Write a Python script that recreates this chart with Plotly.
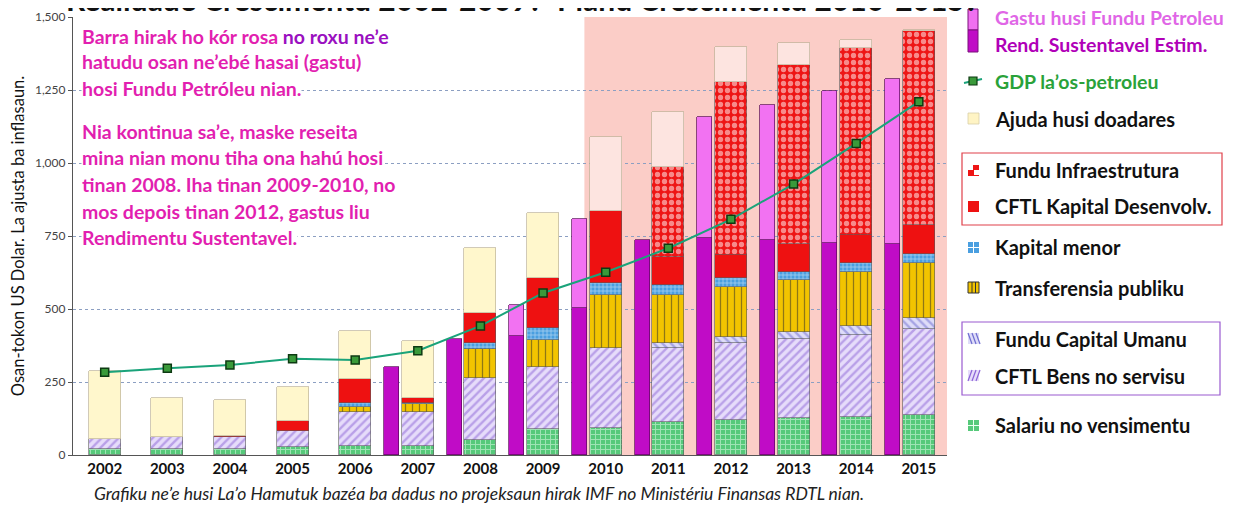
import plotly.graph_objects as go

years = [2002, 2003, 2004, 2005, 2006, 2007, 2008, 2009, 2010, 2011, 2012, 2013, 2014, 2015]
tick_labels = [str(y) for y in years]

# stacked spending components (US$ million)
salariu     = [20, 22, 22, 28, 30, 32, 50, 88, 91, 114, 120, 126, 131, 137]
bens        = [35, 40, 38, 55, 118, 116, 215, 212, 274, 253, 263, 271, 281, 296]
fundu_cap   = [0, 0, 0, 0, 0, 0, 0, 0, 0, 15, 20, 25, 30, 35]
transf      = [0, 0, 0, 0, 15, 25, 97, 95, 183, 166, 174, 177, 186, 188]
kap_menor   = [0, 0, 0, 0, 15, 6, 23, 40, 40, 34, 28, 29, 31, 32]
kap_desenv  = [0, 0, 5, 34, 82, 15, 100, 170, 248, 97, 80, 95, 94, 100]
fundu_infra = [0, 0, 0, 0, 0, 0, 0, 0, 0, 308, 592, 613, 641, 664]
ajuda       = [233, 133, 123, 117, 166, 196, 224, 224, 254, 189, 120, 75, 27, 5]

# Petroleum Fund withdrawals
rend_sust   = [None, None, None, None, None, 300, 396, 408, 502, 736, 742, 736, 727, 723]
gastu_extra = [None, None, None, None, None, None, None, 105, 306, None, 417, 463, 520, 565]

# non-oil GDP
gdp = [283, 297, 308, 330, 325, 357, 442, 555, 626, 708, 807, 928, 1067, 1210]

# ---------------- geometry helpers (reference pixel -> paper) ----------------
OFF = 8                      # page body margin offset
L, R, T, B = 73, 947, 17, 455
W, H = 1238, 508
def PX(x): return (x - L) / (R - L)
def PY(y): return (B - y) / (B - T)

FONT = "Lato"
fig = go.Figure()

SW = 0.51      # stacked bar width
MW = 0.24      # magenta bar width
MOFF = 0.42    # magenta bar offset to the left
mag_x = [y - MOFF for y in years]

edge = dict(color="#5a5a5a", width=0.6)

def stack_trace(name, vals, color, pattern=None, line=None):
    marker = dict(color=color, line=line or edge)
    if pattern:
        marker["pattern"] = pattern
    fig.add_trace(go.Bar(x=years, y=vals, name=name, width=SW, marker=marker,
                         showlegend=False, hoverinfo="name+y"))

stack_trace("Salariu no vensimentu", salariu, "#56c97a",
            dict(shape="+", bgcolor="#56c97a", fgcolor="#eafff0", size=5, solidity=0.35))
stack_trace("CFTL Bens no servisu", bens, "#d9ccf5",
            dict(shape="/", bgcolor="#e6dcfa", fgcolor="#8b63d6", size=6, solidity=0.4))
stack_trace("Fundu Capital Umanu", fundu_cap, "#d6d6f6",
            dict(shape="\\", bgcolor="#dedcf8", fgcolor="#6e6cd0", size=6, solidity=0.4))
stack_trace("Transferensia publiku", transf, "#f2c400",
            dict(shape="|", bgcolor="#f2c400", fgcolor="#2a2a2a", size=7, solidity=0.18))
stack_trace("Kapital menor", kap_menor, "#4a9fe0",
            dict(shape="+", bgcolor="#4a9fe0", fgcolor="#ffffff", size=4, solidity=0.35))
stack_trace("CFTL Kapital Desenvolv.", kap_desenv, "#ee1111")
stack_trace("Fundu Infraestrutura", fundu_infra, "#ee1515",
            dict(shape=".", bgcolor="#ee1515", fgcolor="#ffffff", size=7, solidity=0.45))
aj_colors = ["#fff7cc" if y < 2010 else "#fde4e0" for y in years]
stack_trace("Ajuda husi doadares", ajuda, aj_colors, line=dict(color="#bdb49a", width=0.7))

fig.add_trace(go.Bar(x=mag_x, y=rend_sust, name="Rend. Sustentavel Estim.", width=MW,
                     marker=dict(color="#c00cc6", line=dict(color="#5a0a5a", width=0.7)),
                     showlegend=False))
fig.add_trace(go.Bar(x=mag_x, y=gastu_extra, name="Gastu husi Fundu Petroleu", width=MW,
                     marker=dict(color="#f272f2", line=dict(color="#5a0a5a", width=0.7)),
                     showlegend=False))

fig.add_trace(go.Scatter(x=years, y=gdp, name="GDP la'os-petroleu", mode="lines+markers",
                         line=dict(color="#1aa37a", width=2),
                         marker=dict(symbol="square", size=8, color="#3a9a3a",
                                     line=dict(color="#0d3a12", width=1.5)),
                         showlegend=False))

# pink projection background
fig.add_shape(type="rect", xref="x", yref="y", x0=2009.66, x1=2015.45, y0=0, y1=1500,
              fillcolor="#fbcdc7", line=dict(width=0), layer="below")

fig.update_layout(
    width=W, height=H, barmode="stack", bargap=0,
    margin=dict(l=L - OFF, r=W - (R - OFF), t=T - OFF, b=H - (B - OFF), autoexpand=False),
    paper_bgcolor="white", plot_bgcolor="white",
    font=dict(family=FONT, color="#222"),
    showlegend=False,
)
fig.update_xaxes(range=[2001.494, 2015.45], tickvals=years, ticktext=tick_labels,
                 tickfont=dict(family=FONT, size=15, color="#111", weight="bold"),
                 showline=True, linecolor="#555", linewidth=1.2, showgrid=False,
                 ticks="", zeroline=False)
fig.update_yaxes(range=[0, 1500], tickvals=[0, 250, 500, 750, 1000, 1250, 1500],
                 tickformat=",", tickfont=dict(family=FONT, size=12, color="#444"),
                 showline=True, linecolor="#555", linewidth=1.2, ticks="outside",
                 ticklen=4, tickcolor="#555",
                 showgrid=True, gridcolor="#8c9fc2", griddash="dot", gridwidth=1,
                 zeroline=False,
                 title=dict(text="Osan-tokon US Dolar. La ajusta ba inflasaun.",
                            font=dict(family=FONT, size=16.5, color="#111"), standoff=12))

# ---------------- title (cropped at top, as in the reference) ----------------
fig.add_annotation(xref="paper", yref="paper", x=PX(522), y=PY(19), xanchor="center",
                   yanchor="bottom", showarrow=False,
                   text="<b>Realidade Crescimentu 2002-2009?  Planu Crescimentu 2010-2015?</b>",
                   font=dict(family=FONT, size=30, color="#111"))

# ---------------- note text ----------------
PINK = "#e21fb0"
PURP = "#9a10c0"
note_lines = [
    (36, f"Barra hirak ho kór rosa <span style='color:{PURP}'>no roxu ne’e</span>"),
    (62, "hatudu osan ne’ebé hasai (gastu)"),
    (88, "hosi Fundu Petróleu nian."),
    (131, "Nia kontinua sa’e, maske reseita"),
    (157, "mina nian monu tiha ona hahú hosi"),
    (184, "tinan 2008. Iha tinan 2009-2010, no"),
    (211, "mos depois tinan 2012, gastus liu"),
    (238, "Rendimentu Sustentavel."),
]
for yy, txt in note_lines:
    fig.add_annotation(xref="paper", yref="paper", x=PX(81), y=PY(yy), xanchor="left",
                       yanchor="middle", showarrow=False, text=f"<b>{txt}</b>",
                       bgcolor="white", borderpad=0,
                       font=dict(family=FONT, size=19.5, color=PINK))

# ---------------- caption ----------------
fig.add_annotation(xref="paper", yref="paper", x=PX(479), y=PY(493), xanchor="center",
                   yanchor="middle", showarrow=False,
                   text="<i>Grafiku ne’e husi La’o Hamutuk bazéa ba dadus no projeksaun hirak IMF no Ministériu Finansas RDTL nian.</i>",
                   font=dict(family=FONT, size=17.5, color="#222"))

# ---------------- manual legend ----------------
TX = 993
def legend_text(y, text, color="#111", size=20):
    fig.add_annotation(xref="paper", yref="paper", x=PX(TX), y=PY(y), xanchor="left",
                       yanchor="middle", showarrow=False, text=f"<b>{text}</b>",
                       font=dict(family=FONT, size=size, color=color))

def rect(x0, y0, x1, y1, fill, line="rgba(0,0,0,0)", lw=0):
    fig.add_shape(type="rect", xref="paper", yref="paper", x0=PX(x0), x1=PX(x1),
                  y0=PY(y1), y1=PY(y0), fillcolor=fill, line=dict(color=line, width=lw))

def seg(x0, y0, x1, y1, color, w=1):
    fig.add_shape(type="line", xref="paper", yref="paper", x0=PX(x0), x1=PX(x1),
                  y0=PY(y0), y1=PY(y1), line=dict(color=color, width=w))

# petroleum fund swatch
rect(968, 9, 978, 30, "#f070f0", "#7a107a", 1)
rect(968, 30, 978, 52, "#c00cc6", "#7a107a", 1)
legend_text(18, "Gastu husi Fundu Petroleu", "#e066e6", 19.5)
legend_text(44, "Rend. Sustentavel Estim.", "#b000b8", 19.5)
# GDP
seg(964, 83, 982, 79, "#1aa37a", 2)
rect(969, 77, 977, 85, "#3a9a3a", "#0d3a12", 1.2)
legend_text(81, "GDP la’os-petroleu", "#2aa23a", 19.5)
# Ajuda
rect(968, 113, 979, 124, "#fff4c4", "#d8cfa8", 0.8)
legend_text(119, "Ajuda husi doadares")
# red box
rect(962, 153, 1222, 225, "rgba(0,0,0,0)", "#e0404a", 1.2)
rect(968, 165, 979, 176, "#ee1515")
for (a, b) in [(968, 165), (974, 170)]:
    rect(a, b, a + 5, b + 5, "#ffffff")
legend_text(170, "Fundu Infraestrutura")
rect(968, 201, 979, 212, "#ee1111")
legend_text(206, "CFTL Kapital Desenvolv.")
# Kapital menor
rect(968, 242, 979, 253, "#4a9fe0")
seg(968, 247.5, 979, 247.5, "#ffffff", 1)
seg(973.5, 242, 973.5, 253, "#ffffff", 1)
legend_text(247, "Kapital menor")
# Transferensia
rect(968, 282, 979, 293, "#f2c400", "#333", 1)
seg(972, 282, 972, 293, "#333", 1)
seg(975.5, 282, 975.5, 293, "#333", 1)
legend_text(288, "Transferensia publiku")
# purple box
rect(962, 322, 1220, 395, "rgba(0,0,0,0)", "#9a5ad0", 1.2)
rect(968, 333, 979, 344, "#dedcf8")
for k in range(3):
    seg(968 + 4 * k, 333, 972 + 4 * k, 344, "#6e6cd0", 1.2)
legend_text(339, "Fundu Capital Umanu")
rect(968, 370, 979, 381, "#e6dcfa")
for k in range(3):
    seg(972 + 4 * k, 370, 968 + 4 * k, 381, "#8b63d6", 1.2)
legend_text(376, "CFTL Bens no servisu")
# Salariu
rect(968, 420, 979, 431, "#56c97a")
seg(968, 425.5, 979, 425.5, "#eafff0", 1)
seg(973.5, 420, 973.5, 431, "#eafff0", 1)
legend_text(425, "Salariu no vensimentu")

fig.write_html("out.html")
